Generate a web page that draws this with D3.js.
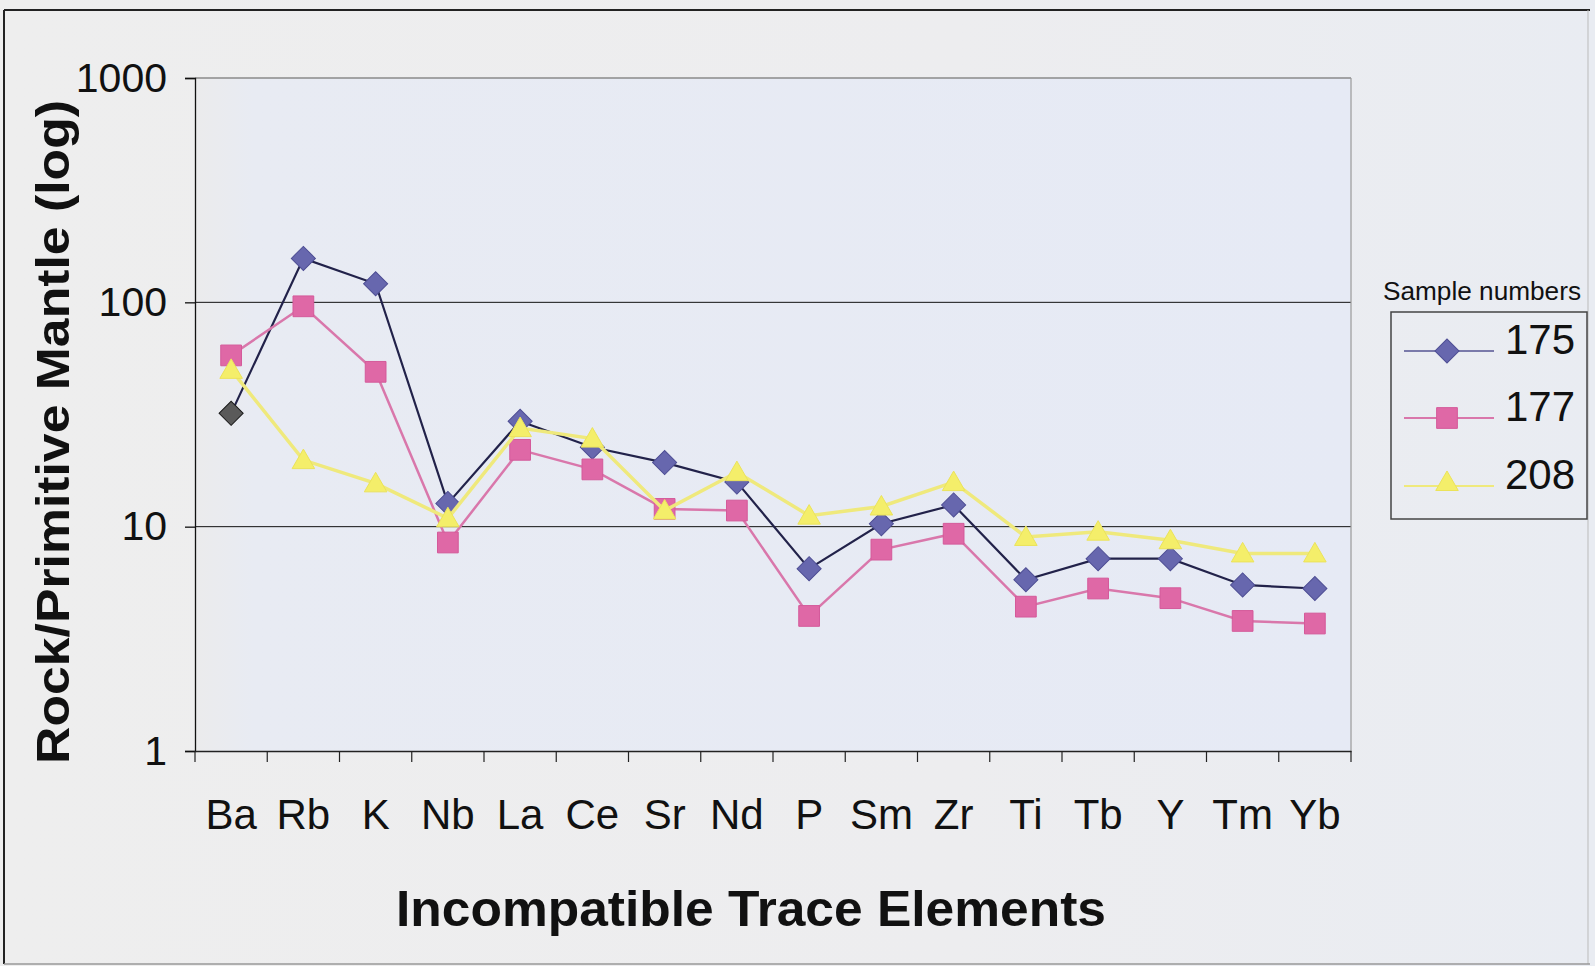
<!DOCTYPE html>
<html>
    <head>
        <title>Incompatible trace elements</title>
        <script src="https://d3js.org/d3.v7.min.js"></script>
        <style>
            body {
                margin:0;
                background:#eeeeee;
            }
            svg {
                display:block;
                font-family:"Liberation Sans", Arial, sans-serif;
            }
        </style>
    </head>
    <body>
        <svg id="chart" width="1595" height="966"></svg>
    </body>
    <script>

        // values (rock / primitive mantle)
        const categories = ['Ba','Rb','K','Nb','La','Ce','Sr','Nd','P','Sm','Zr','Ti','Tb','Y','Tm','Yb'];
        const sample175 = [32, 157, 121, 12.7, 29.5, 22.6, 19.3, 15.8, 6.5, 10.3, 12.5, 5.8, 7.2, 7.2, 5.5, 5.3];
        const sample177 = [58, 96, 49, 8.5, 22, 18, 12, 11.8, 4.0, 7.9, 9.3, 4.4, 5.3, 4.8, 3.8, 3.7];
        const sample208 = [50, 19.8, 15.6, 10.9, 27.5, 24.7, 11.8, 17.5, 11.2, 12.3, 15.8, 9.0, 9.5, 8.7, 7.6, 7.6];
        const sampleNames = ['175', '177', '208'];
        const yTicks = [1, 10, 100, 1000];

        const svg = d3.select('#chart');

        // plot box
        const plotLeft = 195, plotRight = 1351, plotTop = 78, plotBottom = 751;

        const x = d3.scaleBand().domain(categories).range([plotLeft, plotRight]);
        const y = d3.scaleLog().domain([1, 1000]).range([plotBottom, plotTop]);

        // background + gradients
        const defs = svg.append('defs');
        const bg = defs.append('linearGradient').attr('id', 'bg').attr('x1', 0).attr('x2', 1).attr('y1', 0).attr('y2', 0);
        bg.append('stop').attr('offset', '0%').attr('stop-color', '#eeeeee');
        bg.append('stop').attr('offset', '60%').attr('stop-color', '#ededef');
        bg.append('stop').attr('offset', '100%').attr('stop-color', '#e9ecf2');
        const pa = defs.append('linearGradient').attr('id', 'pa').attr('x1', 0).attr('x2', 1).attr('y1', 0).attr('y2', 0);
        pa.append('stop').attr('offset', '0%').attr('stop-color', '#ebebec');
        pa.append('stop').attr('offset', '5%').attr('stop-color', '#e8ebf3');
        pa.append('stop').attr('offset', '100%').attr('stop-color', '#e6eaf5');

        svg.append('rect').attr('width', 1595).attr('height', 966).attr('fill', 'url(#bg)');

        // outer frame (dark top/left, faint right/bottom like the scan)
        svg.append('line').attr('x1', 4).attr('y1', 10).attr('x2', 1590).attr('y2', 10).attr('stroke', '#222').attr('stroke-width', 2);
        svg.append('line').attr('x1', 4).attr('y1', 10).attr('x2', 4).attr('y2', 964).attr('stroke', '#222').attr('stroke-width', 2);
        svg.append('line').attr('x1', 1588).attr('y1', 10).attr('x2', 1588).attr('y2', 964).attr('stroke', '#bbb').attr('stroke-width', 1);
        svg.append('line').attr('x1', 4).attr('y1', 964).attr('x2', 1590).attr('y2', 964).attr('stroke', '#999').attr('stroke-width', 1.5);

        svg.append('rect')
            .attr('x', plotLeft).attr('y', plotTop)
            .attr('width', plotRight - plotLeft).attr('height', plotBottom - plotTop)
            .attr('fill', 'url(#pa)');

        // gridlines
        svg.append('g').selectAll('line')
            .data(yTicks.slice(1))
            .join('line')
            .attr('x1', plotLeft).attr('x2', plotRight)
            .attr('y1', d => y(d)).attr('y2', d => y(d))
            .attr('stroke', d => d === 1000 ? '#8a8a8a' : '#111')
            .attr('stroke-width', d => d === 1000 ? 1.5 : 1);
        svg.append('line')
            .attr('x1', plotRight).attr('x2', plotRight).attr('y1', plotTop).attr('y2', plotBottom)
            .attr('stroke', '#999').attr('stroke-width', 1.2);

        // y axis
        const yAxis = svg.append('g')
            .attr('transform', `translate(${plotLeft},0)`)
            .call(d3.axisLeft(y).tickValues(yTicks).tickFormat(d3.format('d')).tickSize(10).tickPadding(18));
        yAxis.selectAll('text').attr('font-size', 41).attr('fill', '#111').attr('font-family', '"Liberation Sans", Arial, sans-serif');
        yAxis.selectAll('line, path').attr('stroke', '#111').attr('stroke-width', 1.3);

        // x axis, labels centred on each category
        const xAxis = svg.append('g')
            .attr('transform', `translate(0,${plotBottom})`)
            .call(d3.axisBottom(x).tickSize(0).tickPadding(48));
        xAxis.select('.domain').attr('stroke', '#222').attr('stroke-width', 1.5);
        xAxis.selectAll('text').attr('font-size', 42).attr('fill', '#111').attr('font-family', '"Liberation Sans", Arial, sans-serif');

        // tick marks between categories
        const bounds = categories.map(c => x(c)).concat([x.range()[1]]);
        svg.append('g').selectAll('line')
            .data(bounds)
            .join('line')
            .attr('x1', d => d).attr('x2', d => d)
            .attr('y1', plotBottom).attr('y2', plotBottom + 11)
            .attr('stroke', '#222').attr('stroke-width', 1.2);

        // axis titles
        svg.append('text')
            .attr('transform', 'translate(69,432) rotate(-90)')
            .attr('text-anchor', 'middle')
            .attr('font-size', 47).attr('font-weight', 'bold').attr('fill', '#111')
            .attr('textLength', 664).attr('lengthAdjust', 'spacingAndGlyphs')
            .text('Rock/Primitive Mantle (log)');
        svg.append('text')
            .attr('x', 751).attr('y', 926)
            .attr('text-anchor', 'middle')
            .attr('font-size', 50).attr('font-weight', 'bold').attr('fill', '#111')
            .attr('textLength', 710).attr('lengthAdjust', 'spacingAndGlyphs')
            .text('Incompatible Trace Elements');

        // series
        const series = [
            {name: sampleNames[0], values: sample175, line: '#22224a', lw: 2.2, fill: '#6767ae', stroke: '#4e4e94',
             sym: d3.symbolSquare, size: 290, rot: 45},
            {name: sampleNames[1], values: sample177, line: '#d977ab', lw: 2.5, fill: '#df68a6', stroke: '#d45a9a',
             sym: d3.symbolSquare, size: 430, rot: 0},
            {name: sampleNames[2], values: sample208, line: '#efe97c', lw: 3.5, fill: '#f4ee6a', stroke: '#ebe35a',
             sym: d3.symbolTriangle, size: 220, rot: 0}
        ];

        const line = d3.line()
            .x((d, i) => x(categories[i]) + x.bandwidth() / 2)
            .y(d => y(d));

        series.forEach(s => {
            svg.append('path')
                .datum(s.values)
                .attr('d', line)
                .attr('fill', 'none')
                .attr('stroke', s.line)
                .attr('stroke-width', s.lw);

            svg.append('g').selectAll('path')
                .data(s.values)
                .join('path')
                .attr('d', d3.symbol().type(s.sym).size(s.size))
                .attr('transform', (d, i) => `translate(${x(categories[i]) + x.bandwidth() / 2},${y(d) + (s.sym === d3.symbolTriangle ? 2 : 0)}) rotate(${s.rot})`)
                // the first 175 point is printed dark in the original
                .attr('fill', (d, i) => (s.name === '175' && i === 0) ? '#5a5a5a' : s.fill)
                .attr('stroke', (d, i) => (s.name === '175' && i === 0) ? '#1a1a1a' : s.stroke)
                .attr('stroke-width', 1);
        });

        // legend
        svg.append('text')
            .attr('x', 1383).attr('y', 300)
            .attr('font-size', 26).attr('fill', '#111')
            .attr('textLength', 198).attr('lengthAdjust', 'spacingAndGlyphs')
            .text('Sample numbers');

        svg.append('rect')
            .attr('x', 1391).attr('y', 312).attr('width', 196).attr('height', 207)
            .attr('fill', 'none').attr('stroke', '#444').attr('stroke-width', 1.5);

        const legendY = [351, 418, 486];
        series.forEach((s, i) => {
            const g = svg.append('g').attr('transform', `translate(0,${legendY[i]})`);
            g.append('line')
                .attr('x1', 1404).attr('x2', 1494).attr('y1', 0).attr('y2', 0)
                .attr('stroke', i === 0 ? '#7a7aaa' : s.line).attr('stroke-width', 2);
            g.append('path')
                .attr('d', d3.symbol().type(s.sym).size(s.size)())
                .attr('transform', `translate(1447,${s.sym === d3.symbolTriangle ? -2 : 0}) rotate(${s.rot})`)
                .attr('fill', s.fill).attr('stroke', s.stroke);
            g.append('text')
                .attr('x', 1505).attr('y', 3)
                .attr('font-size', 42).attr('fill', '#111')
                .text(s.name);
        });

    </script>
</html>
